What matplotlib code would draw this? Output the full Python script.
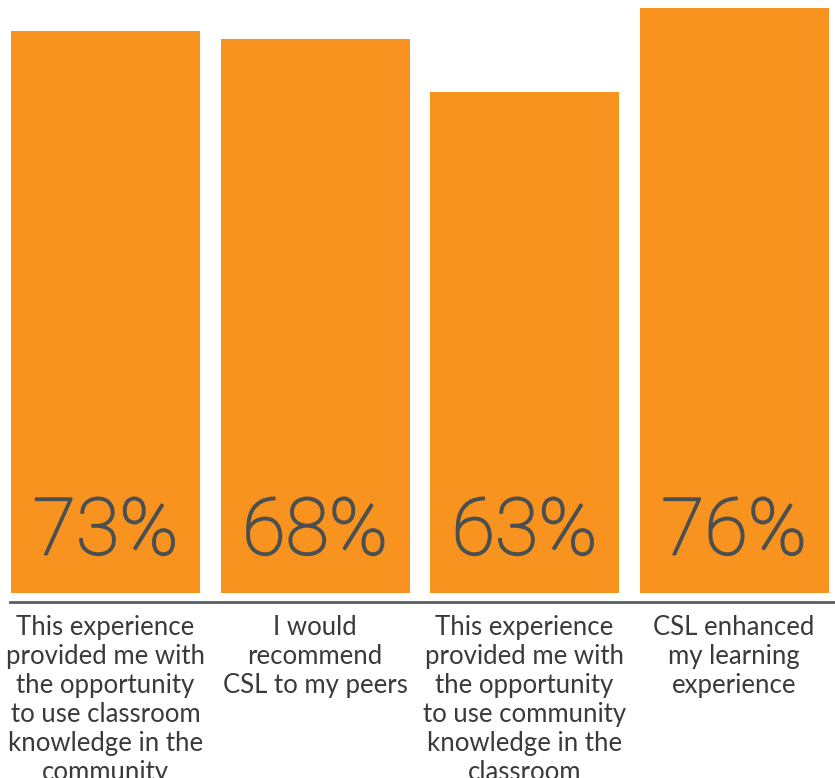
import matplotlib
matplotlib.use("Agg")
import matplotlib.pyplot as plt
import matplotlib.patheffects as pe

categories = [
    "This experience\nprovided me with\nthe opportunity\nto use classroom\nknowledge in the\ncommunity",
    "I would\nrecommend\nCSL to my peers",
    "This experience\nprovided me with\nthe opportunity\nto use community\nknowledge in the\nclassroom",
    "CSL enhanced\nmy learning\nexperience",
]
percents = [73, 68, 63, 76]
# bar heights as drawn in the original (not quite proportional to the labels)
bar_heights = [73, 72, 65, 76]

orange = "#f7931e"
grey = "#4a4f52"

fig = plt.figure(figsize=(8.35, 7.78), dpi=100)
ax = fig.add_axes([0, 0.2378, 1, 0.7622])

x = list(range(len(categories)))
ax.bar(x, bar_heights, width=0.902, color=orange)

ax.set_xlim(-0.504, 3.482)
ax.set_ylim(0, 77.0)
ax.axis("off")

# baseline rule under the bars
ax.axhline(-1.17, xmin=0.012, xmax=1, color="#5a5f62", lw=2, clip_on=False)

for i, p in enumerate(percents):
    ax.text(i, 5.0, f"{p}%", ha="center", va="baseline",
            fontsize=57, color=grey, family="Roboto", weight="light",
            path_effects=[pe.withStroke(linewidth=1.3, foreground=grey)])

for i, c in enumerate(categories):
    ax.text(i, -2.9, c, ha="center", va="top", fontsize=18.5, color="#3a3a3a",
            family="Lato", linespacing=1.2, clip_on=False)

fig.savefig("out.png", dpi=100)
